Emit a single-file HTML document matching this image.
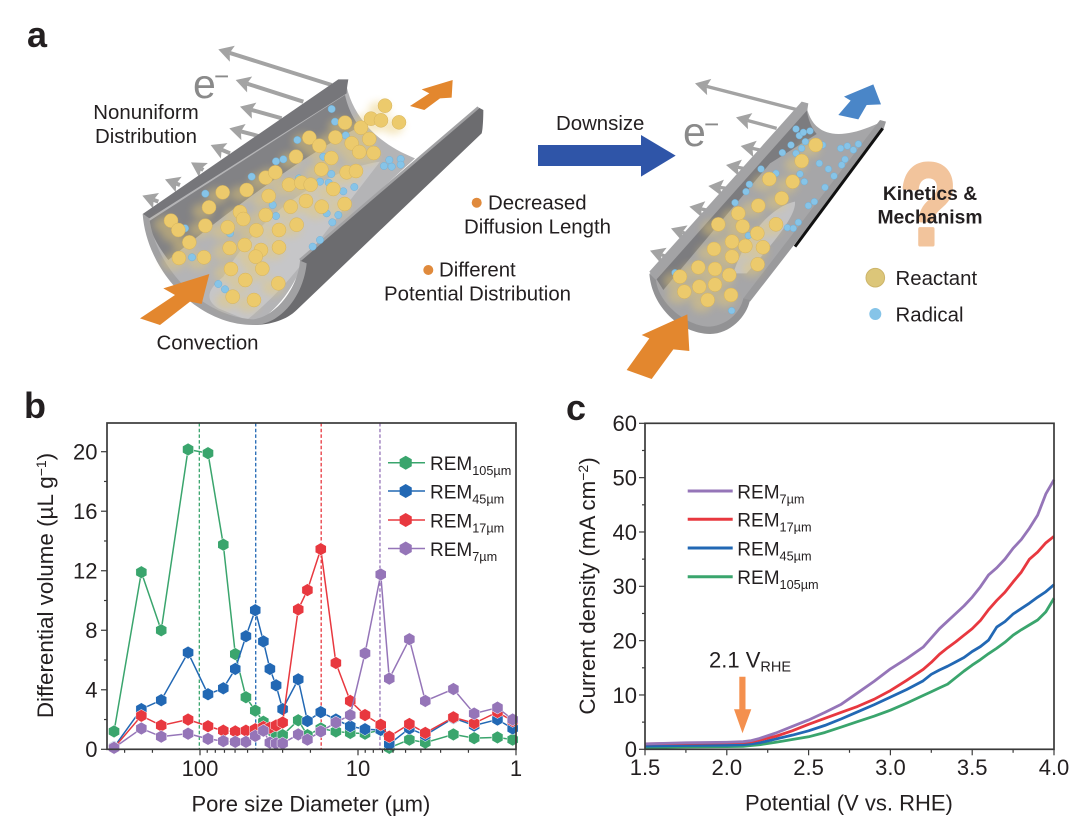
<!DOCTYPE html>
<html lang="en">
<head>
<meta charset="utf-8">
<title>REM pore size and current density figure</title>
<style>
html,body{margin:0;padding:0;background:#fff;}
svg{display:block;font-family:"Liberation Sans",Arial,sans-serif;fill:#231f20;}
</style>
</head>
<body>
<svg id="fig" xmlns="http://www.w3.org/2000/svg" width="1080" height="837" viewBox="0 0 1080 837">
<defs>
<filter id="blurTrail" x="-30%" y="-30%" width="160%" height="160%"><feGaussianBlur stdDeviation="12"/></filter>
</defs>
<rect width="1080" height="837" fill="#fff"/>

<text x="27" y="47" font-size="36" font-weight="700">a</text>
<text x="24" y="418" font-size="36" font-weight="700">b</text>
<text x="566" y="420" font-size="36" font-weight="700">c</text>

<g id="tube1" transform="translate(90,30) scale(0.33333)">
<g id="arrows1"></g>
<path d="M165,560 L770,170 C790,260 860,340 975,385 L640,690 C620,760 560,850 490,880 C340,880 200,740 165,560 Z" fill="#b4b4b6"/>
<path d="M870,395 C700,420 500,560 400,740 C350,780 345,810 385,835 L470,870 C560,800 640,700 650,680 Z" fill="#c6c6c8"/>
<path d="M175,575 L765,195 C775,240 795,275 810,290 C650,370 420,540 235,690 C205,650 185,615 175,575 Z" fill="#828285"/>
<path d="M158,552 L745,148 L775,148 C772,165 770,180 770,190 L178,565 Z" fill="#76767a"/>
<path d="M630,692 L1165,232 L1180,240 C1180,270 1178,300 1175,310 L620,840 C590,870 540,885 490,885 C560,850 640,770 630,692 Z" fill="#6c6c6f"/>
<path d="M630,690 L1165,232" stroke="#a2a2a4" stroke-width="8" fill="none"/>
<path d="M158,552 C170,720 320,885 490,885 C570,885 640,800 650,700 L630,692 C625,770 560,860 490,868 C340,860 200,720 178,565 Z" fill="#a1a1a3"/>
<g id="particles1"></g>
<polygon points="358,732 220,775 255,795 150,865 210,885 300,815 335,822" fill="#e3872e"/>
<polygon points="1088,150 995,178 1018,190 960,228 1003,240 1050,205 1085,203" fill="#e3872e"/>
</g>

<g id="tube2" transform="translate(530,60) scale(0.33333)">
<g id="arrows2"></g>
<polygon points="24,255 333,255 333,225 437,287 333,350 333,318 24,318" fill="#2f55a8"/>
<path d="M360,640 L828,130 C840,210 900,260 1055,185 L650,720 C640,770 590,815 540,820 C450,815 370,740 360,640 Z" fill="#a6a6a8"/>
<path d="M795,425 C800,470 720,560 650,640 L610,640 C640,540 720,440 795,425 Z" fill="#c3c3c5"/>
<path d="M378,655 L830,150 C835,180 845,205 860,222 L720,310 L400,690 Z" fill="#7c7c7f"/>
<path d="M358,635 L815,125 L835,130 L832,150 L378,660 Z" fill="#a3a3a5"/>
<path d="M1050,180 L1068,185 L1060,210 L660,725 L640,715 Z" fill="#9a9a9c"/>
<path d="M1058,205 L795,560" stroke="#111" stroke-width="9" fill="none"/>
<path d="M358,640 C365,740 450,820 540,822 C600,822 650,770 660,720 L640,715 C630,760 590,795 540,800 C470,800 385,730 378,660 Z" fill="#929294"/>
<g id="particles2"></g>
<polygon points="472,763 335,825 358,835 290,930 365,957 430,868 478,873" fill="#e3872e"/>
<polygon points="1030,73 942,110 962,122 925,165 985,178 1010,135 1053,133" fill="#4a86c8"/>
</g>

<g font-size="20.4">
<text x="146" y="119" text-anchor="middle">Nonuniform</text>
<text x="146" y="143" text-anchor="middle">Distribution</text>
<text x="156.5" y="349.5">Convection</text>
<circle cx="476.7" cy="202.7" r="5" fill="#e08a3c"/>
<text x="488" y="209.5">Decreased</text>
<text x="464" y="233.5">Diffusion Length</text>
<circle cx="428.3" cy="270" r="5" fill="#e08a3c"/>
<text x="439" y="276.5">Different</text>
<text x="384" y="300.5">Potential Distribution</text>
<text x="556" y="130">Downsize</text>
<text x="193" y="98" font-size="41" fill="#8a8a8a">e</text>
<text x="214" y="85" font-size="26" fill="#8a8a8a">−</text>
<text x="683" y="146" font-size="41" fill="#8a8a8a">e</text>
<text x="704" y="133" font-size="26" fill="#8a8a8a">−</text>
<text transform="translate(900,244.5) scale(0.8,1)" font-size="116" font-weight="700" style="fill:#f2c49c;stroke:#f2c49c;stroke-width:4;stroke-linejoin:round">?</text>
<text x="930" y="200" text-anchor="middle" font-weight="700" font-size="19.3">Kinetics &amp;</text>
<text x="930" y="223.5" text-anchor="middle" font-weight="700" font-size="19.3">Mechanism</text>
<circle cx="875.3" cy="277.7" r="9.3" fill="#dcc679" stroke="#cdb56a"/>
<text x="895.5" y="285">Reactant</text>
<circle cx="875.3" cy="314" r="6" fill="#86c4e8"/>
<text x="895.5" y="321.5">Radical</text>
</g>

<g id="chartB"></g>
<g id="chartC"></g>

<text transform="translate(53,585.5) rotate(-90)" text-anchor="middle" font-size="22.4" fill="#231f20">Differential volume (µL g<tspan dy="-7" font-size="14">−1</tspan><tspan dy="7">)</tspan></text>
<text x="191.5" y="811.5" font-size="22">Pore size Diameter (µm)</text>
<text transform="translate(595,586) rotate(-90)" text-anchor="middle" font-size="22.4">Current density (mA cm<tspan dy="-7" font-size="14">−2</tspan><tspan dy="7">)</tspan></text>
<text x="745" y="810.5" font-size="22">Potential (V vs. RHE)</text>

<text x="709" y="667.5" font-size="22">2.1 V<tspan dy="4" font-size="14.5">RHE</tspan></text>
<polygon points="739.3,676.7 745.5,676.7 745.5,709.3 751.3,709.3 742.5,733.3 734,709.3 739.3,709.3" fill="#f4904e"/>
</svg>

<script>
// ---- Panel b data ----
const poreDiameters = [350,235,176,119,89,71.2,59.8,51.2,44.7,39.7,36.1,33,30,23.9,20.9,17.2,13.8,11.2,9.03,7.18,6.34,4.73,3.75,2.49,1.84,1.31,1.05];
const volume105 = [1.2,11.9,8,20.15,19.9,13.75,6.4,3.5,2.6,1.85,1.3,1,0.95,1.95,0.95,1.4,1.2,1.1,1.05,1.3,0.1,0.65,0.45,1,0.75,0.8,0.65];
const volume45 = [0.15,2.7,3.3,6.5,3.7,4.1,5.4,7.6,9.35,7.25,5.4,4.3,2.7,4.7,1.9,2.5,2,1.55,1.35,1.3,0.35,1.4,0.95,2.1,1.6,2,1.4];
const volume17 = [0.1,2.25,1.6,2,1.55,1.25,1.2,1.25,1.35,1.5,1.45,1.6,1.8,9.4,10.7,13.45,5.8,3.25,2.3,1.65,0.85,1.7,1.1,2.15,1.75,2.5,1.9];
const volume7 = [0.1,1.4,0.85,1.05,0.7,0.55,0.5,0.5,0.9,1.25,0.45,0.4,0.4,1,0.65,1.2,1.8,2.3,6.45,11.75,4.75,7.4,3.25,4.05,2.4,2.8,2];
const peakDiameters = [101,44.4,17.1,7.26];
const poreYTicks = [0,4,8,12,16,20];
const poreYMinor = [2,6,10,14,18];
const poreXTicks = [100,10,1];
const poreXMinor = [300,200,90,80,70,60,50,40,30,20,9,8,7,6,5,4,3,2];

// ---- Panel c data ----
const potentials = [1.5,1.75,2.0,2.1,2.15,2.2,2.3,2.4,2.5,2.6,2.7,2.8,2.9,3.0,3.1,3.2,3.25,3.3,3.35,3.4,3.45,3.5,3.55,3.6,3.65,3.7,3.75,3.8,3.85,3.9,3.95,4.0];
const current7 = [1,1.2,1.3,1.4,1.6,2,3,4.2,5.4,6.8,8.3,10.4,12.5,14.8,16.7,18.8,20.5,22.2,23.6,25,26.4,28,29.9,32.1,33.4,35,37,38.6,40.7,43.1,47,49.6];
const current17 = [1,1.1,1.2,1.25,1.4,1.7,2.4,3.4,4.6,5.7,6.8,7.9,9.2,10.8,12.7,14.7,16,17.5,18.7,19.8,21,22.2,23.7,25.7,27.4,28.9,30.8,32.6,35,36.3,38,39.2];
const current45 = [0.6,0.7,0.75,0.85,1,1.2,1.9,2.6,3.4,4.4,5.6,6.9,8.2,9.6,11,12.6,13.8,14.6,15.3,16.1,16.9,18,18.9,20.1,22.5,23.5,24.9,25.9,26.9,28,29,30.3];
const current105 = [0.35,0.45,0.5,0.55,0.7,0.85,1.3,1.8,2.3,3.1,4.1,5.1,6.1,7.2,8.5,9.9,10.6,11.3,12,13.2,14.4,15.5,16.5,17.6,18.6,19.7,21,22,22.9,23.8,25.3,27.8];
const currentYTicks = [0,10,20,30,40,50,60];
const currentYMinor = [5,15,25,35,45,55];
const currentXTicks = [1.5,2,2.5,3,3.5,4];
const currentXMinor = [1.75,2.25,2.75,3.25,3.75];

const GREEN = '#3aa56d', BLUE = '#2268b4', RED = '#e8383f', PURPLE = '#9575b8', AXIS = '#3a3a3a';
const NS = 'http://www.w3.org/2000/svg';

function make(parent, tag, attrs, txt) {
  const el = document.createElementNS(NS, tag);
  for (const k in attrs) el.setAttribute(k, attrs[k]);
  if (txt !== undefined) el.textContent = txt;
  parent.appendChild(el);
  return el;
}
function hexPoints(cx, cy, r) {
  const p = [];
  for (let i = 0; i < 6; i++) {
    const a = Math.PI / 3 * i - Math.PI / 2;
    p.push((cx + r * Math.cos(a)).toFixed(2) + ',' + (cy + r * Math.sin(a)).toFixed(2));
  }
  return p.join(' ');
}
function labelWithSub(parent, x, y, sub, size, subSize, name) {
  const t = make(parent, 'text', {x: x, y: y, 'font-size': size});
  
  
  t.appendChild(document.createTextNode('REM'));
  make(t, 'tspan', {dy: 5, 'font-size': subSize}, sub);
}

// ---- Axis functions ----
const xPore = d => 516 - 158 * Math.log10(d);
const yPore = v => 749.3 - v * 14.88;
const xPot = v => 645 + (v - 1.5) * 163.6;
const yCur = v => 749.3 - v * 5.433;

function frame(g, l, t, r, b) {
  const rect = make(g, 'rect', {x: l, y: t, width: r - l, height: b - t, fill: 'none', stroke: AXIS, 'stroke-width': 1.7});
  
  
}
function xTick(g, x, y, len, label, labelY) {
  const t = make(g, 'line', {x1: x, x2: x, y1: y, y2: y + len, stroke: AXIS, 'stroke-width': 1.2});
  
  
  if (label !== null) {
    const s = make(g, 'text', {x: x, y: labelY, 'text-anchor': 'middle', 'font-size': 22}, label);
    
    
  }
}
function yTick(g, x, y, len, label, labelX) {
  const t = make(g, 'line', {x1: x, x2: x - len, y1: y, y2: y, stroke: AXIS, 'stroke-width': 1.2});
  
  
  if (label !== null) {
    const s = make(g, 'text', {x: labelX, y: y + 7.8, 'text-anchor': 'end', 'font-size': 22}, label);
    
    
  }
}

// ---- Panel b ----
const gB = document.getElementById('chartB');
const poreSeries = [
  {key: '105', values: volume105, color: GREEN},
  {key: '45', values: volume45, color: BLUE},
  {key: '17', values: volume17, color: RED},
  {key: '7', values: volume7, color: PURPLE}
];
poreSeries.forEach((s, i) => {
  const dash = make(gB, 'line', {x1: xPore(peakDiameters[i]), x2: xPore(peakDiameters[i]), y1: 423, y2: 749, stroke: s.color, 'stroke-width': 1.3, 'stroke-dasharray': '3.5 2.2'});
  
  
});
poreSeries.forEach(s => {
  const grp = make(gB, 'g', {});
  
  
  const pts = poreDiameters.map((d, i) => xPore(d).toFixed(2) + ',' + yPore(s.values[i]).toFixed(2)).join(' ');
  const line = make(grp, 'polyline', {points: pts, fill: 'none', stroke: s.color, 'stroke-width': 1.5});
  
  
  poreDiameters.forEach((d, i) => {
    const m = make(grp, 'polygon', {points: hexPoints(xPore(d), yPore(s.values[i]), 6.4), fill: s.color, stroke: '#fff', 'stroke-width': 0.5});
    
    
  });
});
frame(gB, 107, 423, 516, 749.3);
poreYTicks.forEach(v => yTick(gB, 107, yPore(v), 6, String(v), 97.5));
poreYMinor.forEach(v => yTick(gB, 107, yPore(v), 3, null));
poreXTicks.forEach(d => xTick(gB, xPore(d), 749.3, 6, String(d), 776));
poreXMinor.forEach(d => xTick(gB, xPore(d), 749.3, 3.5, null));
[['105µm', 462.7, GREEN, '105'], ['45µm', 491, BLUE, '45'], ['17µm', 520, RED, '17'], ['7µm', 548.5, PURPLE, '7']].forEach(e => {
  const l = make(gB, 'line', {x1: 388, x2: 425, y1: e[1], y2: e[1], stroke: e[2], 'stroke-width': 1.5});
  
  
  const m = make(gB, 'polygon', {points: hexPoints(405.7, e[1], 7), fill: e[2]});
  
  
  labelWithSub(gB, 430, e[1] + 7.3, e[0], 19, 12.7, 'legend-label-' + e[3]);
});

// ---- Panel c ----
const gC = document.getElementById('chartC');
const currentSeries = [
  {key: '105', values: current105, color: GREEN},
  {key: '45', values: current45, color: BLUE},
  {key: '17', values: current17, color: RED},
  {key: '7', values: current7, color: PURPLE}
];
currentSeries.forEach(s => {
  const pts = potentials.map((v, i) => xPot(v).toFixed(2) + ',' + yCur(s.values[i]).toFixed(2)).join(' ');
  const line = make(gC, 'polyline', {points: pts, fill: 'none', stroke: s.color, 'stroke-width': 2.8, 'stroke-linejoin': 'round'});
  
  
});
frame(gC, 645, 423.3, 1054, 749.3);
currentYTicks.forEach(v => yTick(gC, 645, yCur(v), 6, String(v), 637));
currentYMinor.forEach(v => yTick(gC, 645, yCur(v), 3, null));
currentXTicks.forEach(v => xTick(gC, xPot(v), 749.3, 6, v.toFixed(1), 775));
currentXMinor.forEach(v => xTick(gC, xPot(v), 749.3, 3.5, null));
[['7µm', 491, PURPLE, '7'], ['17µm', 519.3, RED, '17'], ['45µm', 548, BLUE, '45'], ['105µm', 576.7, GREEN, '105']].forEach(e => {
  const l = make(gC, 'line', {x1: 687.7, x2: 732.7, y1: e[1], y2: e[1], stroke: e[2], 'stroke-width': 3});
  
  
  labelWithSub(gC, 737.3, e[1] + 7.3, e[0], 19, 12.7, 'curve-legend-label-' + e[3]);
});

// ---- Illustration particles and arrows ----
const reactants1 = [[243,572],[265,600],[298,637],[267,684],[342,682],[346,587],[357,532],[398,487],[470,480],[527,443],[556,427],[618,380],[658,323],[688,347],[736,322],[765,278],[813,293],[843,266],[873,271],[885,227],[927,277],[838,327],[785,340],[808,366],[851,369],[724,384],[694,418],[770,427],[798,423],[597,464],[634,458],[662,464],[536,498],[730,477],[648,513],[602,530],[695,530],[764,522],[450,546],[460,567],[527,555],[413,592],[499,601],[567,600],[620,584],[419,654],[464,645],[513,660],[497,680],[567,652],[423,717],[517,716],[466,750],[565,760],[428,800],[492,810]];
const radicals1 = [[725,237],[735,275],[622,330],[767,316],[580,388],[558,394],[485,440],[346,491],[700,380],[724,432],[690,455],[716,458],[793,471],[760,484],[627,445],[548,525],[558,558],[710,550],[727,577],[745,555],[285,595],[306,682],[420,610],[385,762],[405,778],[690,630],[668,650],[882,408],[905,410],[898,390],[932,387],[932,404]];
const reactants2 = [[857,255],[815,303],[718,357],[788,365],[755,415],[685,437],[625,460],[565,493],[638,499],[738,493],[682,520],[606,545],[552,567],[646,558],[699,562],[606,590],[505,622],[555,627],[683,613],[598,645],[450,650],[463,695],[508,680],[555,674],[603,705],[533,720]];
const radicals2 = [[798,207],[808,227],[820,217],[840,213],[826,245],[783,255],[757,278],[815,265],[798,280],[878,255],[932,265],[952,258],[985,252],[970,270],[945,298],[935,315],[868,310],[895,327],[912,348],[885,382],[693,327],[738,340],[810,342],[823,365],[658,373],[648,395],[615,428],[835,437],[853,425],[772,503],[805,487],[790,505],[655,527],[605,752],[435,638]];
const arrowsLarge = [[725,165,385,58],[640,215,437,150],[575,265,450,230],[505,318,418,295],[420,370,362,345],[340,420,303,397],[270,465,225,448],[205,515,157,497]];
const arrowsSmall = [[805,150,495,70],[740,205,618,172],[690,270,632,258],[640,325,588,315],[590,385,535,378],[530,450,478,440],[480,525,423,505],[410,590,360,572]];

function drawParticles(id, reactants, radicals, rr) {
  const root = document.getElementById(id);
  const trail = make(root, 'g', {filter: 'url(#blurTrail)', opacity: 0.45});
  
  
  reactants.forEach(p => {
    const c = make(trail, 'ellipse', {cx: p[0] - 18, cy: p[1] + 12, rx: 32, ry: 24, fill: '#e9cb72'});
    
    
  });
  radicals.forEach(p => {
    const c = make(root, 'circle', {cx: p[0], cy: p[1], r: rr, fill: '#86c4e8', stroke: '#6fb0d8', 'stroke-width': 1.5});
    
    
  });
  reactants.forEach(p => {
    const c = make(root, 'circle', {cx: p[0], cy: p[1], r: 21, fill: '#ecca6c', stroke: '#d5b35c', 'stroke-width': 1.5});
    
    
  });
}
function drawArrows(id, list, width) {
  const root = document.getElementById(id);
  list.forEach(a => {
    const ang = Math.atan2(a[3] - a[1], a[2] - a[0]);
    const bx = a[2] - Math.cos(ang) * 36, by = a[3] - Math.sin(ang) * 36;
    const l = make(root, 'line', {x1: a[0], y1: a[1], x2: bx, y2: by, stroke: '#a3a3a3', 'stroke-width': width});
    
    
    const nx = -Math.sin(ang), ny = Math.cos(ang);
    const pts = [[a[2], a[3]], [bx + nx * 25 - Math.cos(ang) * 8, by + ny * 25 - Math.sin(ang) * 8], [bx, by], [bx - nx * 25 - Math.cos(ang) * 8, by - ny * 25 - Math.sin(ang) * 8]];
    const h = make(root, 'polygon', {points: pts.map(q => q[0].toFixed(1) + ',' + q[1].toFixed(1)).join(' '), fill: '#a3a3a3'});
    
    
  });
}
drawArrows('arrows1', arrowsLarge, 12);
drawArrows('arrows2', arrowsSmall, 10);
drawParticles('particles1', reactants1, radicals1, 11);
drawParticles('particles2', reactants2, radicals2, 10);
</script>
</body>
</html>
